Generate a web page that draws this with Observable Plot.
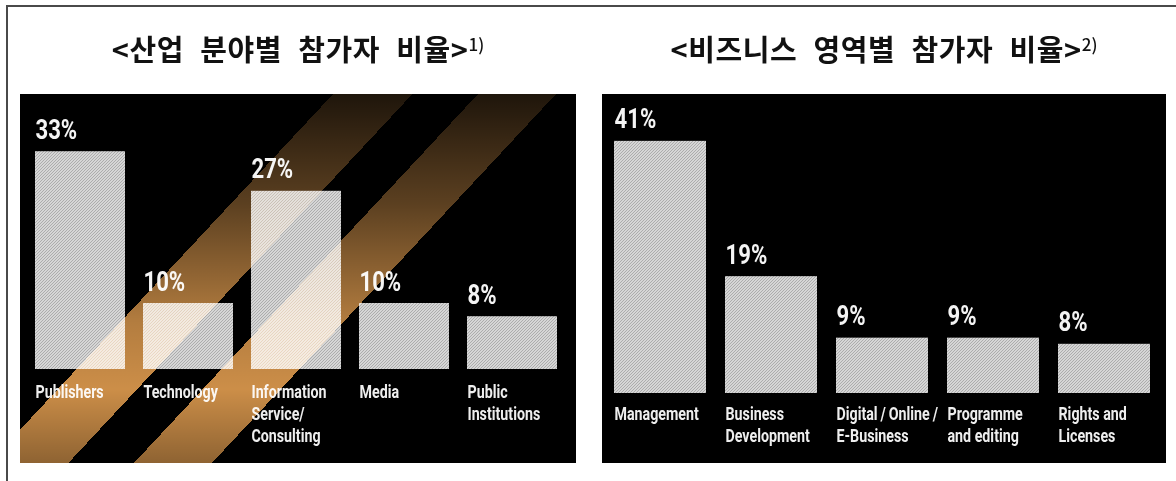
<!DOCTYPE html>
<html><head><meta charset="utf-8">
<script src="https://cdn.jsdelivr.net/npm/d3@7"></script>
<script src="https://cdn.jsdelivr.net/npm/@observablehq/plot@0.6"></script>
<style>
body{margin:0;background:#fff}
#root{position:relative;width:1176px;height:481px;overflow:hidden;background:#fff}
.hline{position:absolute;left:6px;top:5px;width:1170px;height:2px;background:#4a4a4a}
.vline{position:absolute;left:6px;top:5px;width:2px;height:476px;background:#4a4a4a}
.title{position:absolute;top:31px;line-height:34px;font-family:"Noto Sans CJK KR",sans-serif;font-weight:700;font-size:29px;color:#111;text-align:center;white-space:nowrap;word-spacing:9px;letter-spacing:0.6px}
.title sup{font-size:17px;font-weight:500;vertical-align:top;position:relative;top:-4px;word-spacing:0;letter-spacing:0}
.panel{position:absolute;top:94px;height:369px;background:#000;overflow:hidden}
.panel svg{display:block}
.stripes{position:absolute;left:0;top:0;width:100%;height:100%;pointer-events:none;mix-blend-mode:screen;
background:
 linear-gradient(to bottom, rgba(0,0,0,0.85) 0%, rgba(0,0,0,0.55) 30%, rgba(0,0,0,0.12) 62%, rgba(0,0,0,0) 80%, rgba(0,0,0,0.3) 100%),
 linear-gradient(133deg, transparent 229px, #cc8e48 229px, #cc8e48 287px, transparent 287px, transparent 335px, #cc8e48 335px, #cc8e48 392px, transparent 392px);}
</style></head>
<body>
<div id="root">
  <div class="hline"></div><div class="vline"></div>
  <div class="title" style="left:20px;width:556px">&lt;산업 분야별 참가자 비율&gt;<sup>1)</sup></div>
  <div class="title" style="left:602px;width:564px">&lt;비즈니스 영역별 참가자 비율&gt;<sup>2)</sup></div>
  <div class="panel" id="left" style="left:20px;width:556px"></div>
  <div class="panel" id="right" style="left:602px;width:564px"></div>
</div>
<script>
// ---- data ----
const industryCats = ["Publishers", "Technology", "Information\nService/\nConsulting", "Media", "Public\nInstitutions"];
const industryValues = [33, 10, 27, 10, 8];
const businessCats = ["Management", "Business\nDevelopment", "Digital\u2009/\u2009Online\u2009/\nE-Business", "Programme\nand editing", "Rights and\nLicenses"];
const businessValues = [41, 19, 9, 9, 8];

const labelFont = "Roboto, 'DejaVu Sans', sans-serif";

function condense(svg, cls, sx) {
  d3.select(svg).selectAll(`g.${cls} text`).each(function () {
    const t = this.getAttribute("transform");
    if (t && t.includes("translate")) {
      this.setAttribute("transform", t + ` scale(${sx},1)`);
    } else {
      const x = +this.getAttribute("x") || 0, y = +this.getAttribute("y") || 0;
      this.setAttribute("transform", `translate(${x},${y}) scale(${sx},1) translate(${-x},${-y})`);
    }
  });
}

function makePanel(cats, values, cfg) {
  const data = cats.map((c, i) => ({cat: c, value: values[i]}));
  const maxV = d3.max(values);
  const step = (cfg.x1 - cfg.x0) / (cats.length - cfg.pad);
  const bw = step * (1 - cfg.pad);
  const svg = Plot.plot({
    width: cfg.width,
    height: 369,
    margin: 0,
    style: {background: "transparent", overflow: "visible"},
    x: {type: "band", domain: cats, range: [cfg.x0, cfg.x1], paddingInner: cfg.pad, paddingOuter: 0, align: 0, axis: null},
    y: {domain: [0, maxV], range: [cfg.base, cfg.base - maxV * cfg.k], axis: null},
    marks: [
      Plot.barY(data, {x: "cat", y: "value", fill: `url(#${cfg.id})`}),
      Plot.text(data, {x: "cat", y: "value", text: d => d.value + "%", dx: -bw / 2, dy: -13,
        textAnchor: "start", lineAnchor: "bottom", fontSize: cfg.vfs, fontWeight: "bold",
        fontFamily: labelFont, fill: "#f4f4f4", className: "vlab"}),
      Plot.text(data, {x: "cat", y: () => 0, text: "cat", dx: -bw / 2, dy: cfg.ldy,
        textAnchor: "start", lineAnchor: "top", lineHeight: cfg.lh, fontSize: 19, fontWeight: "bold",
        fontFamily: labelFont, fill: "#eeeeee", className: "clab"})
    ]
  });
  condense(svg, "vlab", 0.82);
  condense(svg, "clab", 0.75);
  const defs = d3.select(svg).insert("defs", ":first-child");
  const pat = defs.append("pattern").attr("id", cfg.id).attr("patternUnits", "userSpaceOnUse")
    .attr("width", 3).attr("height", 3);
  pat.append("rect").attr("width", 3).attr("height", 3).attr("fill", "#d6d6d6");
  pat.append("path").attr("d", "M-1,1 L1,-1 M0,3 L3,0 M2,4 L4,2").attr("stroke", "#9a9a9a").attr("stroke-width", 0.7);
  return svg;
}

const left = document.getElementById("left");
left.appendChild(makePanel(industryCats, industryValues,
  {id: "hatchL", width: 556, x0: 15, x1: 538, pad: 0.168, base: 275, k: 6.6, vfs: 27, ldy: 13, lh: 1.16}));
const stripes = document.createElement("div");
stripes.className = "stripes";
left.appendChild(stripes);

document.getElementById("right").appendChild(makePanel(businessCats, businessValues,
  {id: "hatchR", width: 564, x0: 12, x1: 549, pad: 0.173, base: 299, k: 6.15, vfs: 27, ldy: 11, lh: 1.16}));
</script>
</body></html>
